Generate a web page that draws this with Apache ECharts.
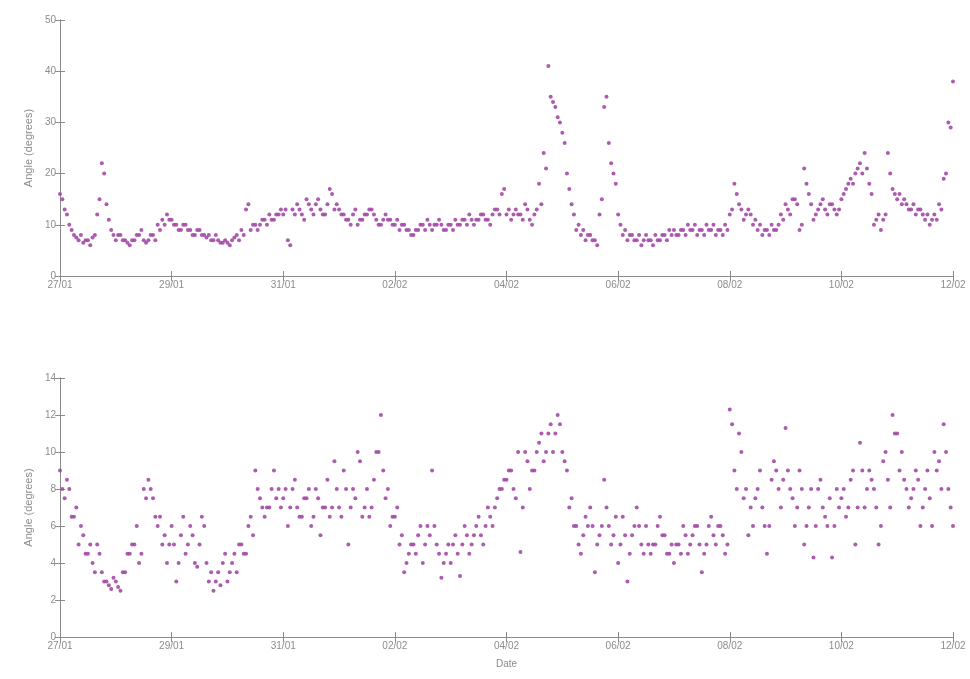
<!DOCTYPE html>
<html>
<head>
<meta charset="utf-8">
<script src="https://cdn.jsdelivr.net/npm/echarts@6/dist/echarts.min.js"></script>
<style>
html,body{margin:0;padding:0;background:#fff;}
#chart{width:970px;height:679px;}
</style>
</head>
<body>
<div id="chart"></div>
<script>
// x tick labels (every 2 days from 27/01 to 12/02)
var tickLabels = ['27/01','29/01','31/01','02/02','04/02','06/02','08/02','10/02','12/02'];
// sampling: one value every hour, starting 27/01 00:00 (day offset 0)
var stepDays = 1/24;

// upper panel: angle (degrees), 24 values per day
var topAngle = [
  16,15,13,12,10,9,8,7.5,7,8,6.5,7, 7,6,7.5,8,12,15,22,20,14,11,9,8,
  7,8,8,7,7,6.5,6,7,7,8,8,9, 7,6.5,7,8,8,7,10,9,11,10,12,11,
  11,10,10,9,9,10,10,9,9,8,8,9, 9,8,8,7.5,8,7,7,8,7,6.5,6.5,7,
  6.5,6,7,7.5,8,7,9,8,13,14,9,10, 10,9,10,11,11,10,12,11,11,12,12,13,
  12,13,7,6,13,12,14,13,12,11,15,14, 13,12,14,15,13,12,12,14,17,16,13,14,
  13,12,12,11,11,10,12,13,10,11,11,12, 12,13,13,12,11,10,10,11,12,11,11,10,
  10,11,9,10,10,9,9,8,8,9,9,10, 10,9,11,10,9,10,10,11,10,9,9,10,
  10,9,11,10,10,11,11,10,12,11,10,11, 11,12,12,11,11,10,12,13,13,12,16,17,
  12,13,11,12,13,12,12,11,14,13,11,10, 12,13,18,14,24,21,41,35,34,33,31,30,
  28,26,20,17,14,12,9,10,8,9,7,8, 8,7,7,6,12,15,33,35,26,22,20,18,
  12,10,8,9,7,8,8,7,7,8,6,7, 8,7,7,6,8,7,7,8,8,7,9,8,
  9,8,8,9,9,8,10,9,9,10,8,9, 9,8,10,9,9,10,8,9,9,8,10,9,
  12,13,18,16,14,13,11,12,13,12,10,11, 9,10,8,9,9,8,10,9,9,10,12,11,
  14,13,12,15,15,14,9,10,21,18,16,14, 11,12,13,14,15,13,12,14,14,13,12,13,
  15,16,17,18,19,18,20,21,22,20,24,21, 18,16,10,11,12,9,11,12,24,20,17,16,
  15,16,14,15,14,13,13,14,12,13,13,12, 11,12,10,11,12,11,14,13,19,20,30,29,
  38
];

// lower panel: angle (degrees), 24 values per day
var bottomAngle = [
  9,8,7.5,8.5,8,6.5,6.5,7,5,6,5.5,4.5, 4.5,5,4,3.5,5,4.5,3.5,3,3,2.8,2.6,3.2,
  3,2.7,2.5,3.5,3.5,4.5,4.5,5,5,6,4,4.5, 8,7.5,8.5,8,7.5,6.5,6,6.5,5,5.5,4,5,
  6,5,3,4,5.5,6.5,4.5,5,6,5.5,4,3.8, 5,6.5,6,4,3,3.5,2.5,3,3.5,2.8,4,4.5,
  3,3.5,4,4.5,3.5,5,5,4.5,4.5,6,6.5,5.5, 9,8,7.5,7,6.5,7,7,8,9,7.5,8,7,
  7.5,8,6,7,8,8.5,7,6.5,6.5,7.5,7.5,8, 6,6.5,8,7.5,5.5,7,7,8.5,6.5,7,9.5,8,
  7,6.5,9,8,5,7,8,7.5,10,9.5,6.5,7, 8,6.5,7,8.5,10,10,12,9,7.5,8,6,6.5,
  6.5,7,5,5.5,3.5,4,4.5,5,5,4.5,5.5,6, 4,5,6,5.5,9,6,5,4.5,3.2,4,4.5,5,
  4,5,5.5,4.5,3.3,5,6,5.5,4.5,5,5.5,6, 6.5,5.5,5,6,7,6.5,6,7,7.5,8,8,8.5,
  8.5,9,9,8,7.5,10,4.6,7,10,9.5,8,9, 9,10,10.5,11,9.5,10,11,11.5,10,11,12,11.5,
  10,9.5,9,7,7.5,6,6,5,4.5,5.5,6.5,6, 7,6,3.5,5,5.5,6,8.5,7,6,5,5.5,6.5,
  4,5,6.5,5.5,3,4.5,5.5,6,7,6,5,4.5, 6,5,4.5,5,5,6,6.5,5.5,5.5,4.5,4.5,5,
  4,5,5,4.5,6,5.5,4.5,5,5.5,6,6,5, 3.5,4.5,5,6,6.5,5.5,5,6,6,5.5,4.5,5,
  12.3,11.5,9,8,11,10,7.5,8,5.5,7,6,7.5, 8,9,7,6,4.5,6,8.5,9.5,9,8,7,8.5,
  11.3,9,8,7.5,6,7,9,8,5,6,7,8, 4.3,6,8,8.5,7,6.5,6,7.5,4.3,6,8,7,
  7.5,8,6.5,7,8.5,9,5,7,10.5,9,7,8, 9,8.5,8,7,5,6,9.5,10,8.5,7,12,11,
  11,9,10,8.5,8,7,7.5,8,9,8.5,6,7, 8,9,7.5,6,10,9,9.5,8,11.5,10,8,7,
  6
];

function toPoints(arr){
  return arr.map(function(v,i){ return [i*stepDays, v]; });
}

var axisCol = '#8a8a8a';
var txtCol = '#8c8c8c';
var dotCol = '#a24aa6';
var font = 'Liberation Sans';

function xAxes(gi){
  return [{
    type:'value', gridIndex:gi, min:0, max:16, interval:2, position:'bottom',
    axisLine:{show:true,lineStyle:{color:axisCol,width:1}},
    axisTick:{show:true,inside:true,length:5,lineStyle:{color:axisCol}},
    axisLabel:{color:txtCol,fontSize:10,fontFamily:font,margin:4,
      formatter:function(v){ return tickLabels[Math.round(v/2)]; }},
    splitLine:{show:false},
    name: gi===1 ? 'Date' : '', nameLocation:'middle', nameGap:22,
    nameTextStyle:{color:txtCol,fontSize:10,fontFamily:font}
  },{
    type:'value', gridIndex:gi, min:0, max:16, interval:2, position:'top',
    axisLine:{show:true,lineStyle:{color:axisCol,width:1}},
    axisTick:{show:true,inside:true,length:5,lineStyle:{color:axisCol}},
    axisLabel:{show:false}, splitLine:{show:false}
  }];
}
function yAxes(gi,max,interval){
  return [{
    type:'value', gridIndex:gi, min:0, max:max, interval:interval, position:'left',
    axisLine:{show:true,lineStyle:{color:axisCol,width:1}},
    axisTick:{show:true,inside:true,length:5,lineStyle:{color:axisCol}},
    axisLabel:{color:txtCol,fontSize:10,fontFamily:font,margin:4},
    splitLine:{show:false},
    name:'Angle (degrees)', nameLocation:'middle', nameGap:26, nameRotate:90,
    nameTextStyle:{color:txtCol,fontSize:11,fontFamily:font}
  },{
    type:'value', gridIndex:gi, min:0, max:max, interval:interval, position:'right',
    axisLine:{show:true,lineStyle:{color:axisCol,width:1}},
    axisTick:{show:true,inside:true,length:5,lineStyle:{color:axisCol}},
    axisLabel:{show:false}, splitLine:{show:false}
  }];
}

var chart = echarts.init(document.getElementById('chart'), null, {renderer:'canvas'});
chart.setOption({
  backgroundColor:'#ffffff',
  animation:false,
  grid:[
    {left:60, right:17, top:20, height:256},
    {left:60, right:17, top:378, height:259}
  ],
  xAxis: xAxes(0).concat(xAxes(1)),
  yAxis: yAxes(0,50,10).concat(yAxes(1,14,2)),
  series:[
    {type:'scatter', xAxisIndex:0, yAxisIndex:0, data:toPoints(topAngle),
     symbolSize:4, itemStyle:{color:dotCol, opacity:0.9}},
    {type:'scatter', xAxisIndex:2, yAxisIndex:2, data:toPoints(bottomAngle),
     symbolSize:4, itemStyle:{color:dotCol, opacity:0.9}}
  ]
});
</script>
</body>
</html>
